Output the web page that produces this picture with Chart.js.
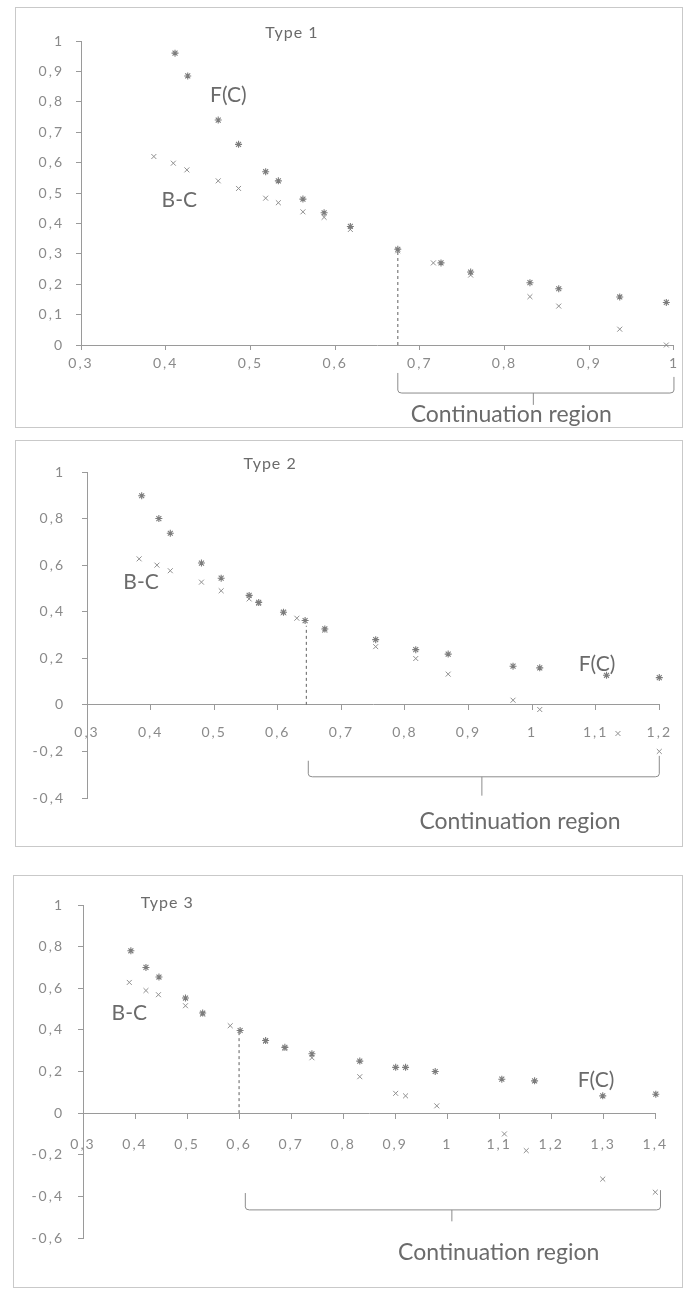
<!DOCTYPE html>
<html>
<head>
<meta charset="utf-8">
<script src="https://cdn.jsdelivr.net/npm/chart.js@4.4.1/dist/chart.umd.min.js"></script>
<style>
    body { margin: 0; background: #fff; }
    .frame { position: absolute; border: 1px solid #c9c9c9; box-sizing: border-box; }
    canvas { position: absolute; }
</style>
</head>
<body>
<div class="frame" style="left:15px;top:7px;width:668px;height:421px"></div>
<div class="frame" style="left:15px;top:440px;width:668px;height:407px"></div>
<div class="frame" style="left:13px;top:875px;width:670px;height:413px"></div>
<canvas id="type1" width="668" height="421" style="left:15px;top:7px"></canvas>
<canvas id="type2" width="668" height="407" style="left:15px;top:440px"></canvas>
<canvas id="type3" width="670" height="413" style="left:13px;top:875px"></canvas>
<script>
// axis ranges: [min, max, step]
const type1XAxis = [0.3, 1.0, 0.1];
const type1YAxis = [0, 1, 0.1];
const type2XAxis = [0.3, 1.2, 0.1];
const type2YAxis = [-0.4, 1, 0.2];
const type3XAxis = [0.3, 1.4, 0.1];
const type3YAxis = [-0.6, 1, 0.2];

// Type 1
const type1FcX = [0.411, 0.426, 0.462, 0.486, 0.518, 0.533, 0.562, 0.587, 0.618, 0.674, 0.725, 0.76, 0.83, 0.864, 0.936, 0.991];
const type1FcY = [0.96, 0.885, 0.74, 0.66, 0.57, 0.54, 0.48, 0.435, 0.39, 0.315, 0.27, 0.24, 0.205, 0.185, 0.158, 0.14];
const type1BcX = [0.386, 0.409, 0.425, 0.462, 0.486, 0.518, 0.533, 0.562, 0.587, 0.618, 0.674, 0.716, 0.76, 0.83, 0.864, 0.936, 0.991];
const type1BcY = [0.62, 0.598, 0.576, 0.54, 0.515, 0.483, 0.468, 0.438, 0.42, 0.38, 0.31, 0.27, 0.23, 0.159, 0.128, 0.052, 0.0];
const type1Boundary = [0.674, 0.315];

// Type 2
const type2FcX = [0.386, 0.413, 0.431, 0.48, 0.511, 0.555, 0.57, 0.609, 0.643, 0.674, 0.754, 0.817, 0.868, 0.97, 1.012, 1.117, 1.2];
const type2FcY = [0.898, 0.8, 0.737, 0.609, 0.544, 0.47, 0.44, 0.398, 0.362, 0.326, 0.28, 0.237, 0.218, 0.166, 0.159, 0.127, 0.117];
const type2BcX = [0.382, 0.41, 0.431, 0.48, 0.511, 0.555, 0.57, 0.609, 0.63, 0.674, 0.754, 0.817, 0.868, 0.97, 1.012, 1.135, 1.2];
const type2BcY = [0.627, 0.6, 0.576, 0.527, 0.49, 0.455, 0.435, 0.395, 0.372, 0.32, 0.25, 0.199, 0.132, 0.02, -0.02, -0.123, -0.2];
const type2Boundary = [0.645, 0.34];

// Type 3
const type3FcX = [0.392, 0.421, 0.446, 0.497, 0.53, 0.602, 0.651, 0.688, 0.74, 0.832, 0.901, 0.92, 0.977, 1.105, 1.168, 1.299, 1.401];
const type3FcY = [0.78, 0.7, 0.654, 0.553, 0.481, 0.397, 0.349, 0.316, 0.285, 0.25, 0.22, 0.22, 0.2, 0.163, 0.155, 0.083, 0.091];
const type3BcX = [0.389, 0.421, 0.445, 0.497, 0.53, 0.583, 0.651, 0.688, 0.74, 0.832, 0.901, 0.92, 0.98, 1.11, 1.152, 1.299, 1.4];
const type3BcY = [0.628, 0.589, 0.569, 0.516, 0.475, 0.42, 0.345, 0.31, 0.266, 0.175, 0.095, 0.083, 0.035, -0.1, -0.18, -0.317, -0.38];
const type3Boundary = [0.6, 0.4];

const fmt = v => String(Math.round(v * 10) / 10).replace(".", ",");
const points = (xs, ys) => xs.map((x, i) => ({ x, y: ys[i] }));

const notesPlugin = {
    id: "panelNotes",
    beforeDraw(chart) {
        chart.ctx.letterSpacing = "2px";
    },
    afterDraw(chart, args, opts) {
        const { ctx } = chart;
        const sx = chart.scales.x;
        const sy = chart.scales.y;
        ctx.save();
        ctx.fillStyle = "#6b6b6b";
        ctx.textAlign = "center";
        ctx.textBaseline = "middle";
        opts.notes.forEach(n => {
            ctx.font = n.size + "px Lato";
            ctx.letterSpacing = (n.spacing || 0) + "px";
            ctx.fillText(n.text, sx.getPixelForValue(n.x), sy.getPixelForValue(n.y));
        });

        // curly bracket under the continuation region
        const b = opts.brace;
        const x1 = sx.getPixelForValue(b.x1);
        const x2 = sx.getPixelForValue(b.x2);
        const xm = sx.getPixelForValue(b.mid);
        const yb = sy.getPixelForValue(b.y);
        ctx.strokeStyle = "#8c8c8c";
        ctx.lineWidth = 1;
        ctx.beginPath();
        ctx.moveTo(x1, sy.getPixelForValue(b.leftTop));
        ctx.lineTo(x1, yb - 3);
        ctx.quadraticCurveTo(x1, yb, x1 + 4, yb);
        ctx.lineTo(x2 - 4, yb);
        ctx.quadraticCurveTo(x2, yb, x2, yb - 3);
        ctx.lineTo(x2, sy.getPixelForValue(b.rightTop));
        ctx.moveTo(xm, yb);
        ctx.lineTo(xm, sy.getPixelForValue(b.midBottom));
        ctx.stroke();
        ctx.restore();
    }
};

function makeChart(id, cfg) {
    const axisColor = "#9a9a9a";
    const tickFont = { family: "Lato", size: 14 };
    return new Chart(document.getElementById(id).getContext("2d"), {
        type: "scatter",
        data: {
            datasets: [
                {
                    label: "F(C)",
                    data: points(cfg.fcX, cfg.fcY),
                    pointStyle: "star",
                    radius: 3.5,
                    borderColor: "#7c7c7c",
                    borderWidth: 1.1,
                    clip: false
                },
                {
                    label: "B-C",
                    data: points(cfg.bcX, cfg.bcY),
                    pointStyle: "crossRot",
                    radius: 3.5,
                    borderColor: "#8f8f8f",
                    borderWidth: 1,
                    clip: false
                },
                {
                    label: "boundary",
                    type: "line",
                    data: [{ x: cfg.boundary[0], y: 0 }, { x: cfg.boundary[0], y: cfg.boundary[1] }],
                    borderColor: "#7a7a7a",
                    borderWidth: 1.2,
                    borderDash: [3, 3],
                    pointRadius: 0,
                    showLine: true
                }
            ]
        },
        options: {
            responsive: false,
            animation: false,
            devicePixelRatio: 1,
            layout: { padding: cfg.padding },
            plugins: {
                legend: { display: false },
                tooltip: { enabled: false },
                panelNotes: { notes: cfg.notes, brace: cfg.brace }
            },
            scales: {
                x: {
                    type: "linear",
                    position: cfg.xPosition,
                    min: cfg.xAxis[0],
                    max: cfg.xAxis[1],
                    grid: { drawOnChartArea: false, color: axisColor, tickLength: 5 },
                    border: { color: axisColor },
                    ticks: {
                        stepSize: cfg.xAxis[2],
                        color: "#8a8a8a",
                        font: tickFont,
                        padding: cfg.xPad,
                        maxRotation: 0,
                        callback: v => fmt(v)
                    },
                    afterFit: s => { if (cfg.xHeight) s.height = cfg.xHeight; }
                },
                y: {
                    type: "linear",
                    position: "left",
                    min: cfg.yAxis[0],
                    max: cfg.yAxis[1],
                    grid: { drawOnChartArea: false, color: axisColor, tickLength: 5 },
                    border: { color: axisColor },
                    ticks: {
                        stepSize: cfg.yAxis[2],
                        color: "#8a8a8a",
                        font: tickFont,
                        padding: cfg.yPad,
                        callback: v => fmt(v)
                    },
                    afterFit: s => { s.width = cfg.yWidth; }
                }
            }
        },
        plugins: [notesPlugin]
    });
}

makeChart("type1", {
    fcX: type1FcX, fcY: type1FcY, bcX: type1BcX, bcY: type1BcY, boundary: type1Boundary,
    xAxis: type1XAxis, yAxis: type1YAxis,
    xPosition: "bottom", xHeight: 83, xPad: 5, yWidth: 66, yPad: 12,
    padding: { top: 34, right: 7, bottom: 0, left: 0 },
    notes: [
        { text: "Type 1", x: 0.549, y: 1.026, size: 16, spacing: 1 },
        { text: "F(C)", x: 0.474, y: 0.822, size: 21 },
        { text: "B-C", x: 0.416, y: 0.477, size: 21 },
        { text: "Continuation region", x: 0.808, y: -0.23, size: 23 }
    ],
    brace: { x1: 0.674, x2: 1.0, y: -0.158, leftTop: -0.092, rightTop: -0.105, mid: 0.834, midBottom: -0.197 }
});

makeChart("type2", {
    fcX: type2FcX, fcY: type2FcY, bcX: type2BcX, bcY: type2BcY, boundary: type2Boundary,
    xAxis: type2XAxis, yAxis: type2YAxis,
    xPosition: { y: 0 }, xPad: 14, yWidth: 72, yPad: 17,
    padding: { top: 32, right: 15, bottom: 49, left: 0 },
    notes: [
        { text: "Type 2", x: 0.588, y: 1.034, size: 16, spacing: 1 },
        { text: "B-C", x: 0.385, y: 0.528, size: 21 },
        { text: "F(C)", x: 1.102, y: 0.176, size: 21 },
        { text: "Continuation region", x: 0.981, y: -0.502, size: 23 }
    ],
    brace: { x1: 0.648, x2: 1.2, y: -0.309, leftTop: -0.24, rightTop: -0.219, mid: 0.921, midBottom: -0.39 }
});

makeChart("type3", {
    fcX: type3FcX, fcY: type3FcY, bcX: type3BcX, bcY: type3BcY, boundary: type3Boundary,
    xAxis: type3XAxis, yAxis: type3YAxis,
    xPosition: { y: 0 }, xPad: 18, yWidth: 70, yPad: 14,
    padding: { top: 30, right: 23, bottom: 50, left: 0 },
    notes: [
        { text: "Type 3", x: 0.462, y: 1.011, size: 16, spacing: 1 },
        { text: "B-C", x: 0.389, y: 0.482, size: 21 },
        { text: "F(C)", x: 1.286, y: 0.16, size: 21 },
        { text: "Continuation region", x: 1.099, y: -0.67, size: 23 }
    ],
    brace: { x1: 0.612, x2: 1.41, y: -0.465, leftTop: -0.384, rightTop: -0.37, mid: 1.009, midBottom: -0.52 }
});
</script>
</body>
</html>
